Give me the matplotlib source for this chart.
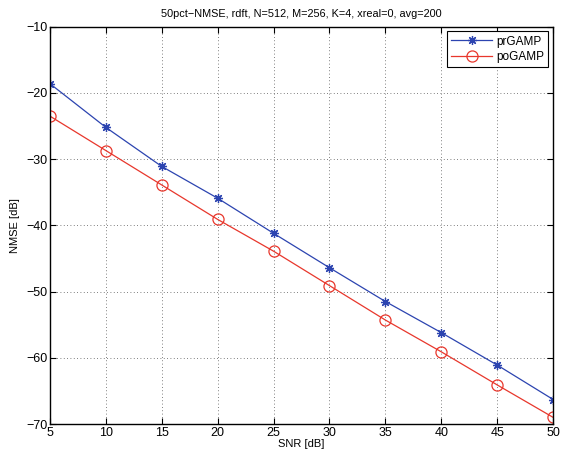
# NMSE vs SNR for the two GAMP variants
import matplotlib
matplotlib.use('Agg')
import matplotlib.pyplot as plt

snr = [5, 10, 15, 20, 25, 30, 35, 40, 45, 50]
nmse_pr = [-18.6, -25.2, -31.1, -35.9, -41.2, -46.4, -51.5, -56.2, -61.1, -66.3]
nmse_po = [-23.5, -28.7, -33.9, -39.1, -43.9, -49.1, -54.3, -59.1, -64.1, -69.0]

plt.rcParams['font.family'] = ['Liberation Sans', 'DejaVu Sans']
plt.rcParams['font.size'] = 8

fig = plt.figure(figsize=(5.61, 4.53), dpi=100)
ax = fig.add_axes([0.089, 0.064, 0.897, 0.877])

# matlab-style asterisk: 8 spokes
ax.plot(snr, nmse_pr, color='#2c44b0', lw=0.9, marker=(8, 2, 0), ms=6.5,
        mew=0.9, label='prGAMP')
ax.plot(snr, nmse_po, color='#e8372c', lw=0.9, marker='o', ms=8,
        mfc='none', mew=0.9, label='poGAMP')

ax.set_xlim(5, 50)
ax.set_ylim(-70, -10)
ax.set_xticks(range(5, 51, 5))
ax.set_yticks(range(-70, -9, 10))
ax.tick_params(direction='in', top=True, right=True, length=4, width=0.8,
               pad=2, labelsize=9)
ax.grid(True, linestyle=(0, (1, 3)), color='#555555', lw=0.6)
for s in ax.spines.values():
    s.set_linewidth(1.0)

ax.set_xlabel('SNR [dB]', labelpad=0)
ax.set_ylabel('NMSE [dB]', labelpad=4)
ax.set_title('50pct\u2212NMSE, rdft, N=512, M=256, K=4, xreal=0, avg=200', fontsize=7.8, pad=7)

leg = ax.legend(loc='upper right', fancybox=False, edgecolor='black',
                framealpha=1, borderaxespad=0.4, handlelength=3.4, fontsize=8.5,
                borderpad=0.35, labelspacing=0.3, handletextpad=0.4)
leg.get_frame().set_linewidth(0.8)

fig.savefig('out.png', dpi=100)
